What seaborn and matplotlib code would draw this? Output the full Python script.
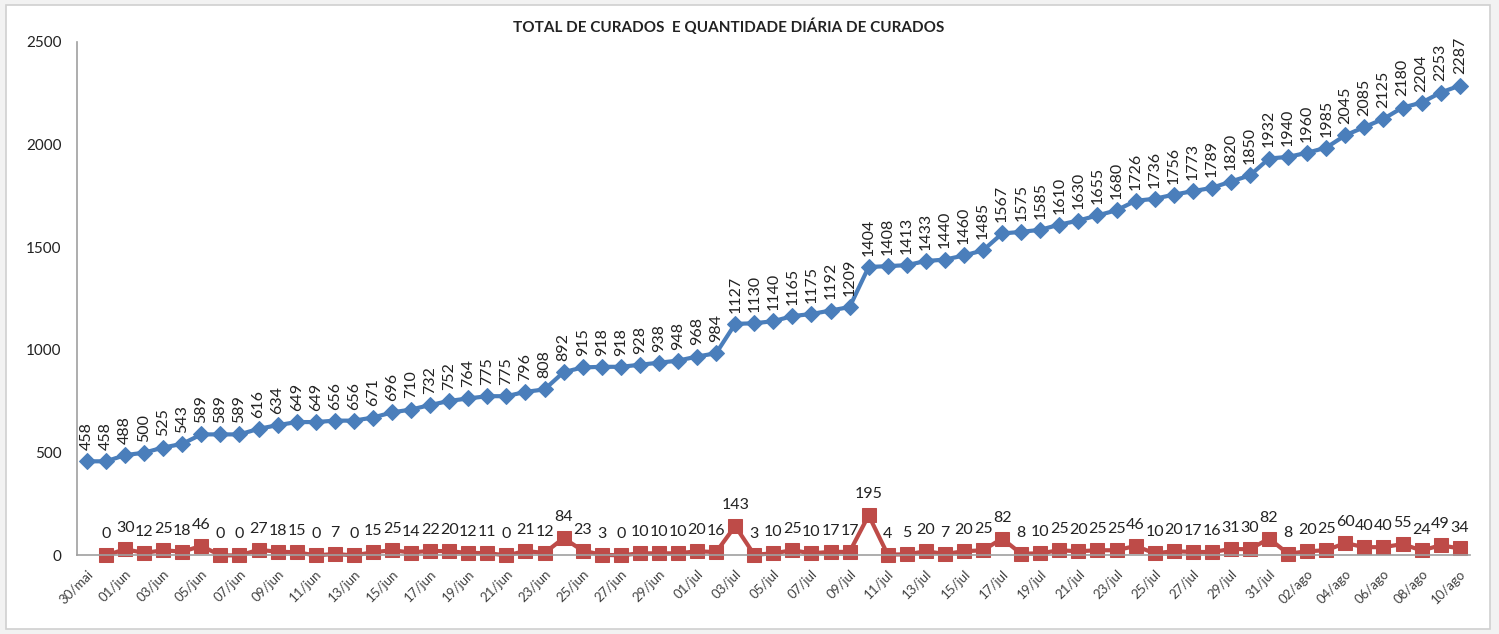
import numpy as np
import pandas as pd
import seaborn as sns
from matplotlib import pyplot as plt

sns.set_theme(style='white')
plt.rcParams['font.family'] = ['Lato', 'DejaVu Sans']

dates = ['30/mai', '31/mai'] + [f'{d:02d}/jun' for d in range(1, 31)] + \
        [f'{d:02d}/jul' for d in range(1, 32)] + [f'{d:02d}/ago' for d in range(1, 11)]

total = [458, 458, 488, 500, 525, 543, 589, 589, 589, 616, 634, 649, 649, 656, 656, 671,
         696, 710, 732, 752, 764, 775, 775, 796, 808, 892, 915, 918, 918, 928, 938, 948,
         968, 984, 1127, 1130, 1140, 1165, 1175, 1192, 1209, 1404, 1408, 1413, 1433, 1440,
         1460, 1485, 1567, 1575, 1585, 1610, 1630, 1655, 1680, 1726, 1736, 1756, 1773, 1789,
         1820, 1850, 1932, 1940, 1960, 1985, 2045, 2085, 2125, 2180, 2204, 2253, 2287]

# daily values start on 31/mai
daily = [0, 30, 12, 25, 18, 46, 0, 0, 27, 18, 15, 0, 7, 0, 15, 25, 14, 22, 20, 12, 11, 0,
         21, 12, 84, 23, 3, 0, 10, 10, 10, 20, 16, 143, 3, 10, 25, 10, 17, 17, 195, 4, 5,
         20, 7, 20, 25, 82, 8, 10, 25, 20, 25, 25, 46, 10, 20, 17, 16, 31, 30, 82, 8, 20,
         25, 60, 40, 40, 55, 24, 49, 34]

blue = '#4A7EBB'
red = '#BE4B48'

df_total = pd.DataFrame({'pos': np.arange(len(dates)), 'val': total})
df_daily = pd.DataFrame({'pos': np.arange(1, len(dates)), 'val': daily})

fig = plt.figure(figsize=(14.99, 6.34), dpi=100)
fig.patch.set_facecolor('#f2f2f2')
ax = fig.add_axes([0.0514, 0.124, 0.929, 0.81])

# white chart area with a light border
bg = plt.Rectangle((0.004, 0.008), 0.99, 0.984, transform=fig.transFigure,
                   facecolor='white', edgecolor='#d0d0d0', lw=1.2, zorder=-1)
fig.patches.append(bg)

sns.lineplot(data=df_total, x='pos', y='val', ax=ax, color=blue, lw=3,
             marker='D', markersize=8, markeredgecolor=blue, clip_on=False)
sns.lineplot(data=df_daily, x='pos', y='val', ax=ax, color=red, lw=3,
             marker='s', markersize=9.5, markeredgecolor=red, clip_on=False)

for x, v in zip(df_total['pos'], df_total['val']):
    ax.annotate(str(v), (x, v), xytext=(0, 8), textcoords='offset points',
                rotation=90, ha='center', va='bottom', fontsize=11.5, color='#222222')
for x, v in zip(df_daily['pos'], df_daily['val']):
    ax.annotate(str(v), (x, v), xytext=(0, 10), textcoords='offset points',
                ha='center', va='bottom', fontsize=11.5, color='#222222')

ax.set_xlim(-0.52, len(dates) - 0.48)
ax.set_ylim(0, 2500)
ax.set_yticks(range(0, 2501, 500))
ax.set_xticks(range(0, len(dates), 2))
ax.set_xticklabels(dates[::2], rotation=45, ha='right', rotation_mode='anchor',
                   fontsize=9.5, color='#404040')
ax.set_xticks(np.arange(-0.5, len(dates), 2), minor=True)
ax.tick_params(axis='x', which='major', length=0, pad=9)
ax.tick_params(axis='x', which='minor', length=5, color='#a0a0a0', width=1, direction='out')
ax.tick_params(axis='y', length=5, color='#a0a0a0', width=1, direction='out',
               labelsize=11, labelcolor='#222222', pad=6)
ax.set_xlabel('')
ax.set_ylabel('')

for s in ['top', 'right']:
    ax.spines[s].set_visible(False)
for s in ['left', 'bottom']:
    ax.spines[s].set_color('#a0a0a0')
    ax.spines[s].set_linewidth(1.2)

fig.text(0.486, 0.958, 'TOTAL DE CURADOS  E QUANTIDADE DIÁRIA DE CURADOS',
         ha='center', va='center', fontsize=11, fontweight='bold', color='#222222')

fig.savefig('out.png', dpi=100, facecolor=fig.get_facecolor())
